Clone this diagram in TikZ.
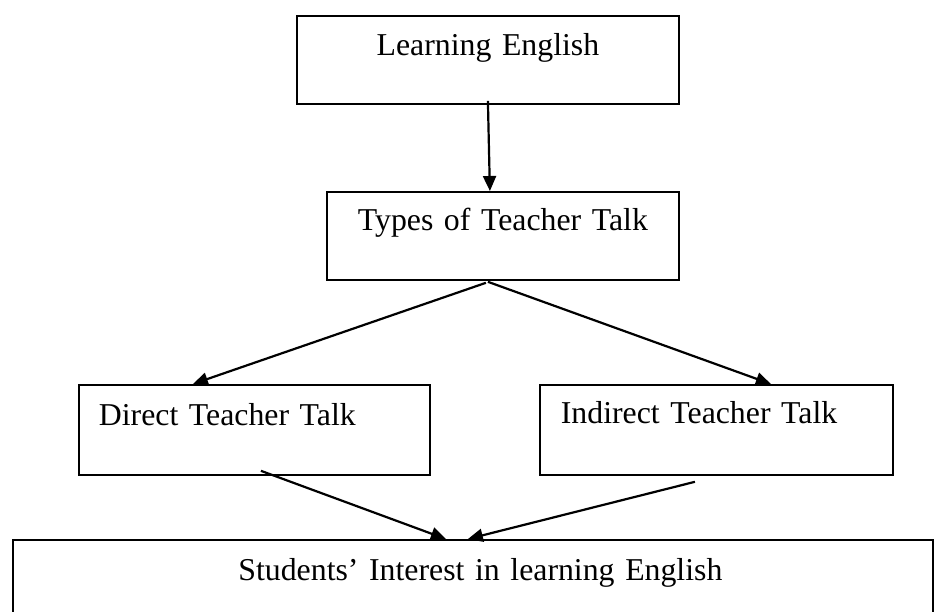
\documentclass[tikz,border=0pt]{standalone}
\usepackage{fontspec}
\setmainfont{Liberation Serif}
\usetikzlibrary{arrows.meta}

\begin{document}
\begin{tikzpicture}[x=1pt, y=-1pt, >={Triangle[length=15pt, width=13pt]}]
  % Page frame: the last box runs off the bottom edge
  \useasboundingbox (0,0) rectangle (936,611);
  \clip (0,0) rectangle (936,611);

  % ==========================================
  % 1. STYLES
  % ==========================================
  \tikzset{
    flowbox/.style={
      draw, line width=1.8pt, inner ysep=0pt, anchor=north west,
      font=\fontsize{31.8}{38}\selectfont
    },
    centerbox/.style={flowbox, inner xsep=0pt, align=center},
    leftbox/.style={flowbox, align=left},
    flowarrow/.style={->, line width=2.2pt}
  }

  % ==========================================
  % 2. BOXES
  % ==========================================
  \node[centerbox, text width=382pt, text height=40pt, text depth=48pt]
    (learnEng) at (296,15) {Learning English};
  \node[centerbox, text width=352pt, text height=39pt, text depth=49pt]
    (talkTypes) at (326,191) {Types of Teacher Talk};

  \node[leftbox, inner xsep=20pt, text width=311pt, text height=41pt, text depth=49pt]
    (directTalk) at (78,384) {Direct Teacher Talk};
  \node[leftbox, inner xsep=21pt, text width=311pt, text height=39pt, text depth=51pt]
    (indirectTalk) at (539,384) {Indirect Teacher Talk};

  \node[centerbox, text width=920pt, text height=41pt, text depth=60pt]
    (interest) at (12,539) {\hspace*{15pt}Students’ Interest in learning English};

  % ==========================================
  % 3. ARROWS
  % ==========================================
  \draw[flowarrow] ([yshift=4pt]learnEng.south) -- ([xshift=-13pt]talkTypes.north);

  \draw[flowarrow] ([xshift=-17pt, yshift=-2pt]talkTypes.south) -- ([xshift=-61.5pt]directTalk.north);
  \draw[flowarrow] ([xshift=-15pt, yshift=-1pt]talkTypes.south) -- ([xshift=54.5pt]indirectTalk.north);

  \draw[flowarrow] ([xshift=6.5pt, yshift=5pt]directTalk.south) -- ([xshift=-27pt]interest.north);
  \draw[flowarrow] ([xshift=-21.5pt, yshift=-6pt]indirectTalk.south) -- ([xshift=-5pt]interest.north);

\end{tikzpicture}
\end{document}
